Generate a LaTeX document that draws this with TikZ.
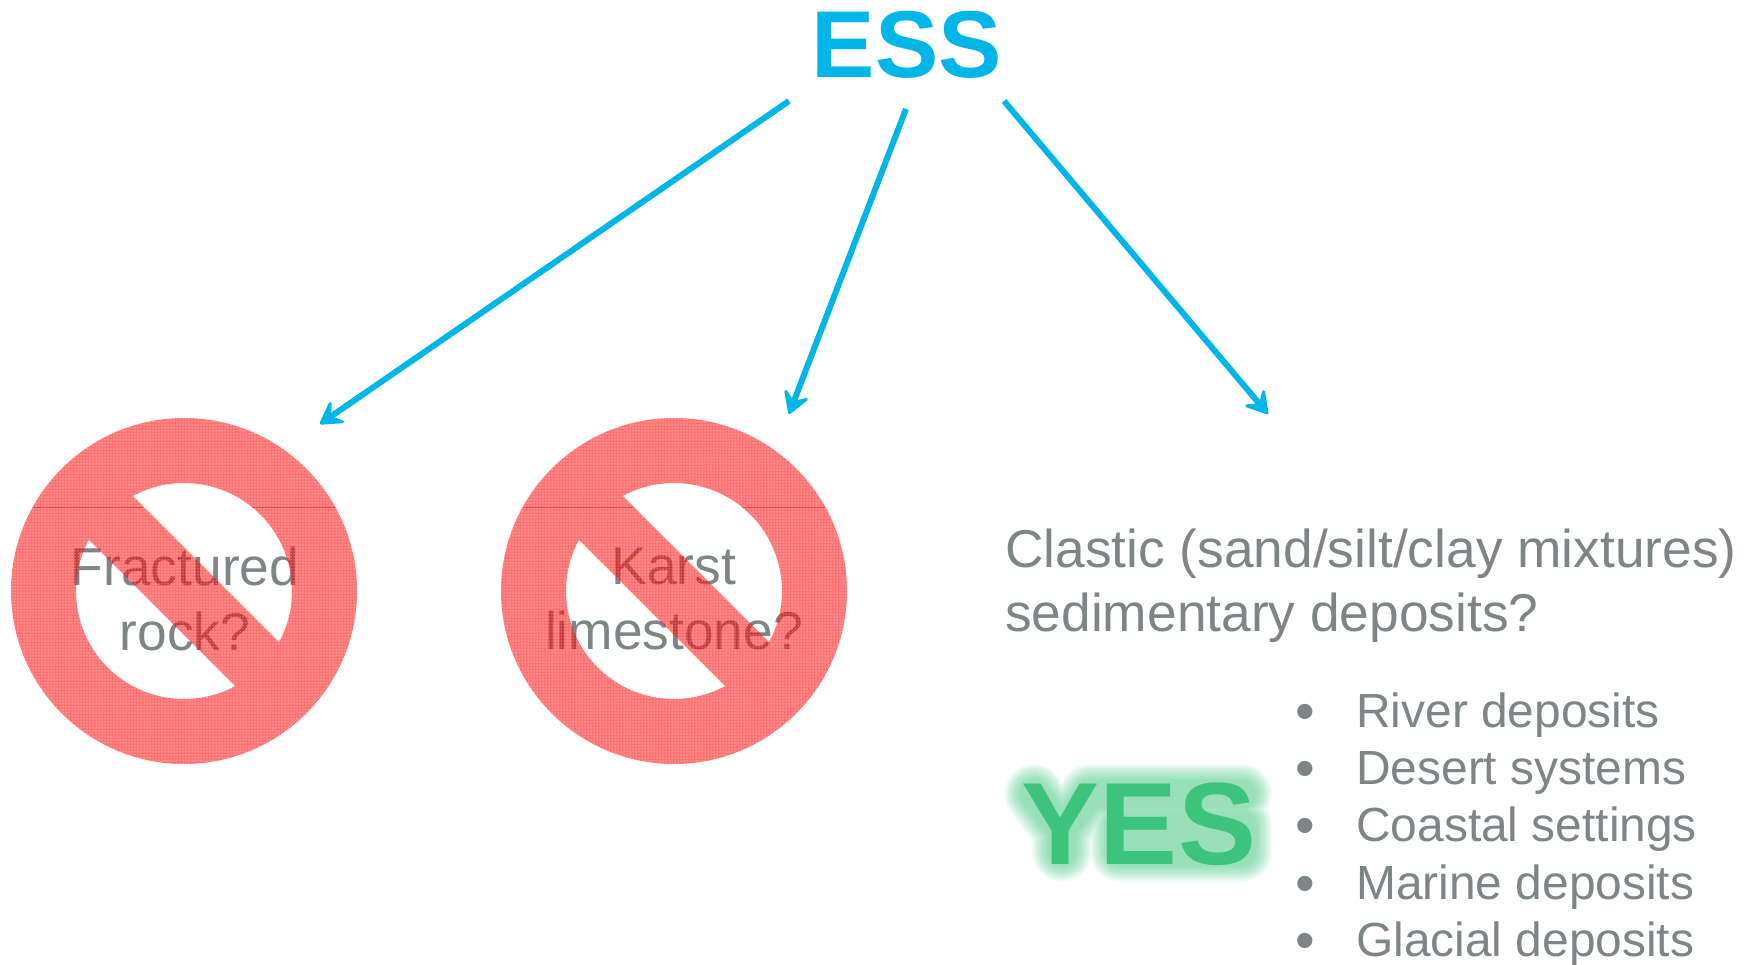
\documentclass[tikz,border=0pt]{standalone}
\usepackage{fontspec}
\setmainfont{Liberation Sans}
\usepackage{tikz}
\usetikzlibrary{arrows.meta,patterns,positioning}
\definecolor{essblue}{HTML}{00B5E8}
\definecolor{textgray}{HTML}{7F8487}
\definecolor{signred}{HTML}{FF0000}
\definecolor{yesgreen}{HTML}{3CC47C}

\begin{document}
\begin{tikzpicture}[%
    x=1pt,y=-1pt,
    >={Stealth[length=27pt,width=32pt,inset=12pt,line width=3pt,round]},
    node distance=57.4pt,
    on grid,
    link/.style={->,essblue,line width=6pt},
    signtext/.style={textgray,align=center,font=\fontsize{53.3}{64.5}\selectfont,inner sep=0pt},
    para/.style={textgray,align=left,font=\fontsize{53.3}{64}\selectfont,inner sep=0pt,anchor=north west},
    listitem/.style={textgray,font=\fontsize{47.9}{57}\selectfont,inner sep=0pt,
      text height=36pt,text depth=11pt,
      label={[textgray,font=\fontsize{56}{57}\selectfont,inner sep=0pt,xshift=-41pt,yshift=-2.5pt]left:•}},
    glow/.style={yesgreen,opacity=.042,line cap=round,line join=round}
  ]
  \useasboundingbox (0,0) rectangle (1747,965);

  \coordinate (sign1) at (184,591);
  \coordinate (sign2) at (674,591);

  \node[essblue,inner sep=0pt,font=\fontsize{95}{95}\bfseries] (ess) at (907,45) {ESS};
  \node[signtext] (fractured) at (185,599) {Fractured\\rock?};
  \node[signtext] (karst) at (674,599) {Karst\\limestone?};
  \node[para] (clastic) at (1005,528.5) {Clastic (sand/silt/clay mixtures)\\sedimentary deposits?};

  \node[listitem,anchor=west] (river) at (1356,714.5) {River deposits};
  \node[listitem,below=of river.west,anchor=west] (desert) {Desert systems};
  \node[listitem,below=of desert.west,anchor=west] (coastal) {Coastal settings};
  \node[listitem,below=of coastal.west,anchor=west] (marine) {Marine deposits};
  \node[listitem,below=of marine.west,anchor=west] (glacial) {Glacial deposits};

  % no-entry signs lie over their labels
  \foreach \c in {sign1,sign2} {
    \path[even odd rule,preaction={fill=signred,fill opacity=.55},pattern=dots,pattern color=white]
      (\c) circle[radius=173]
      (\c) ++(28.3:108) arc[start angle=28.3,end angle=-118.3,radius=108] -- cycle
      (\c) ++(-151.7:108) arc[start angle=-151.7,end angle=-298.3,radius=108] -- cycle;
    \draw[signred!85!black,opacity=.4,line width=1pt]
      (\c) ++(-151,-84) -- ++(110,0) ++(109,0) -- ++(83,0);
  }

  % soft halo behind YES
  \foreach \w in {60,58,...,28} {
    \draw[glow,line width=\w pt]
      (1034,794) -- (1062,830) -- (1090,794) -- (1242,794)
      (1062,830) -- (1062,852)
      (1120,852) -- (1242,852) -- (1242,825) -- (1120,825) -- (1120,852);
  }
  \node[yesgreen,inner sep=0pt,font=\fontsize{117}{117}\bfseries] (yes) at (1139,824) {YES};

  \coordinate (endleft) at (320,424);
  \coordinate (endmid) at (789,414);
  \coordinate (endright) at (1268,414);
  \coordinate (startleft) at (789,101);
  \coordinate (startmid) at (906,109);
  \coordinate (startright) at (1004,101);

  \path[link] (startleft) edge (endleft);
  \path[link] (startmid) edge (endmid);
  \path[link] (startright) edge (endright);
\end{tikzpicture}
\end{document}
